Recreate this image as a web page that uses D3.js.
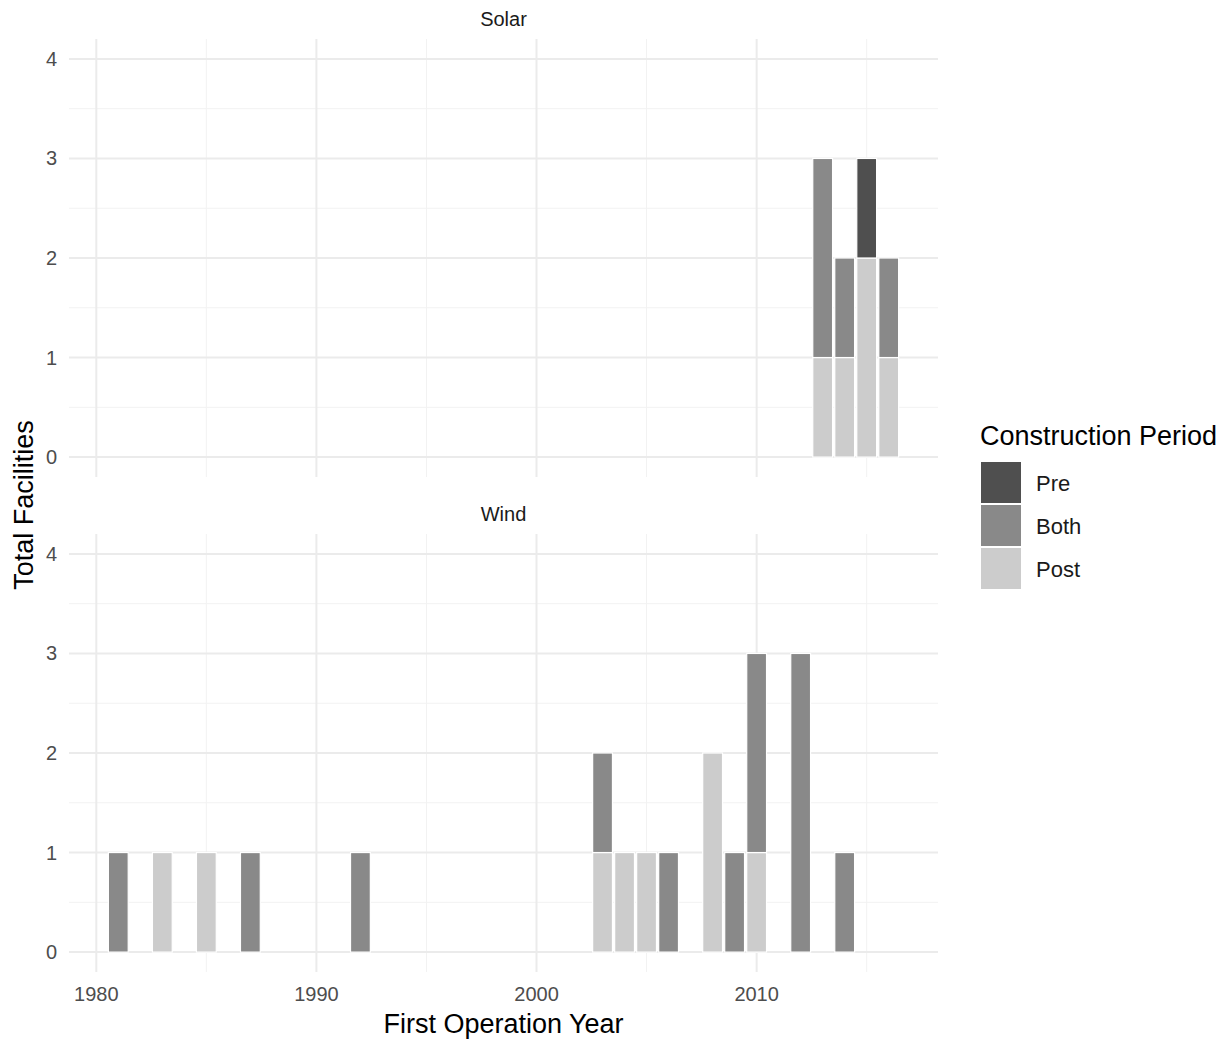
<!DOCTYPE html>
<html><head><meta charset="utf-8">
<script src="https://cdn.jsdelivr.net/npm/d3@7"></script>
<style>body{margin:0;background:#fff;font-family:Arial,"Liberation Sans",sans-serif;}</style>
</head><body><svg id="c" width="1228" height="1040"></svg>
<script>
const periods = ["Post","Both","Pre"];          // stacking order bottom→top
const legendOrder = ["Pre","Both","Post"];
const colors = {Pre:"#4f4f4f", Both:"#898989", Post:"#cccccc"};
const facets = ["Solar","Wind"];
const solarYears = [2013,2014,2015,2016];
const solarPost  = [1,1,2,1];
const solarBoth  = [2,1,0,1];
const solarPre   = [0,0,1,0];
const windYears = [1981,1983,1985,1987,1992,2003,2004,2005,2006,2008,2009,2010,2012,2014];
const windPost  = [0,1,1,0,0,1,1,1,0,2,0,1,0,0];
const windBoth  = [1,0,0,1,1,1,0,0,1,0,1,2,3,1];
const windPre   = [0,0,0,0,0,0,0,0,0,0,0,0,0,0];
const xTicks = [1980,1990,2000,2010];
const xMinor = [1985,1995,2005,2015];
const yTicks = [0,1,2,3,4];
const yMinor = [0.5,1.5,2.5,3.5];

function rows(years, post, both, pre){
  return years.map((y,i)=>({year:y, Post:post[i], Both:both[i], Pre:pre[i]}));
}
const data = {Solar: rows(solarYears,solarPost,solarBoth,solarPre), Wind: rows(windYears,windPost,windBoth,windPre)};

const svg = d3.select("#c");
const left=69, right=938;
const x = d3.scaleLinear().domain([1978.76,2018.24]).range([left,right]);
const panels = {Solar:[39,477], Wind:[534,972]};
const tickColor="#4d4d4d";

facets.forEach(f=>{
  const [top,bot] = panels[f];
  const y = d3.scaleLinear().domain([-0.2,4.2]).range([bot,top]);
  const g = svg.append("g");
  // minor grid
  g.selectAll(".hmin").data(yMinor).join("line").attr("x1",left).attr("x2",right)
    .attr("y1",d=>y(d)).attr("y2",d=>y(d)).attr("stroke","#f2f2f2").attr("stroke-width",1);
  g.selectAll(".vmin").data(xMinor).join("line").attr("y1",top).attr("y2",bot)
    .attr("x1",d=>x(d)).attr("x2",d=>x(d)).attr("stroke","#f2f2f2").attr("stroke-width",1);
  // major grid
  g.selectAll(".hmaj").data(yTicks).join("line").attr("x1",left).attr("x2",right)
    .attr("y1",d=>y(d)).attr("y2",d=>y(d)).attr("stroke","#ebebeb").attr("stroke-width",2);
  g.selectAll(".vmaj").data(xTicks).join("line").attr("y1",top).attr("y2",bot)
    .attr("x1",d=>x(d)).attr("x2",d=>x(d)).attr("stroke","#ebebeb").attr("stroke-width",2);
  // bars
  const stack = d3.stack().keys(periods)(data[f]);
  stack.forEach(s=>{
    g.selectAll(null).data(s.filter(d=>d[1]>d[0])).join("rect")
      .attr("x",d=>x(d.data.year-0.45)).attr("width",x(0.9)-x(0))
      .attr("y",d=>y(d[1])).attr("height",d=>y(d[0])-y(d[1]))
      .attr("fill",colors[s.key]).attr("stroke","#fff").attr("stroke-width",1.2);
  });
  // y axis labels
  g.selectAll(".yl").data(yTicks).join("text").attr("x",57).attr("y",d=>y(d)).attr("dy","0.35em")
    .attr("text-anchor","end").attr("font-size",20).attr("fill",tickColor).text(d=>d);
  // strip
  g.append("text").attr("x",(left+right)/2).attr("y",top-13).attr("text-anchor","middle")
    .attr("font-size",20).attr("fill","#1a1a1a").text(f);
});
// x tick labels
svg.selectAll(".xl").data(xTicks).join("text").attr("x",d=>x(d)).attr("y",1001)
  .attr("text-anchor","middle").attr("font-size",20).attr("fill",tickColor).text(d=>d);
// axis titles
svg.append("text").attr("x",(left+right)/2).attr("y",1033).attr("text-anchor","middle")
  .attr("font-size",27).attr("fill","#000").text("First Operation Year");
svg.append("text").attr("transform","translate(33,505) rotate(-90)").attr("text-anchor","middle")
  .attr("font-size",27).attr("fill","#000").text("Total Facilities");
// legend
svg.append("text").attr("x",980).attr("y",445).attr("font-size",27).attr("fill","#000").text("Construction Period");
legendOrder.forEach((k,i)=>{
  svg.append("rect").attr("x",981).attr("y",462+i*43).attr("width",40).attr("height",41).attr("fill",colors[k]);
  svg.append("text").attr("x",1036).attr("y",483+i*43).attr("dy","0.35em").attr("font-size",22).attr("fill","#1a1a1a").text(k);
});
</script></body></html>
